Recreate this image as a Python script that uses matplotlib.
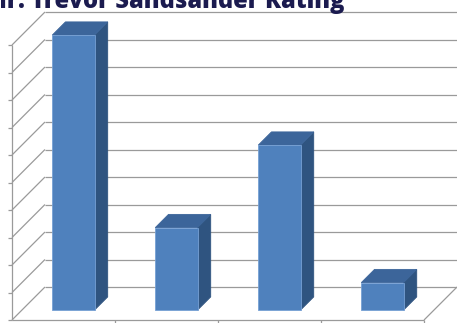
import matplotlib.pyplot as plt

# data
categories = ["A", "B", "C", "D"]
values = [10, 3, 6, 1]
grid_values = list(range(0, 11))
title = "Mr. Trevor Sandsander Rating"

# oblique "3d" look: full depth shifts right and up
DX = 0.32
DY = 1.2


def proj(x, y, d):
    return x + d * DX, y + d * DY


def face(ax, pts, color, edge=None):
    xy = [proj(*p) for p in pts]
    ax.fill([p[0] for p in xy], [p[1] for p in xy], color=color,
            ec=edge if edge else color, lw=0.6, zorder=3)


def seg(ax, a, b, **kw):
    p, q = proj(*a), proj(*b)
    ax.plot([p[0], q[0]], [p[1], q[1]], color="#9a9a9a", lw=0.9,
            solid_capstyle="butt", zorder=1, **kw)


fig = plt.figure(figsize=(4.57, 3.23), dpi=100)
ax = fig.add_axes([0, 0, 1, 1])
n = len(categories)
ax.set_xlim(-12 / 103, n + DX)
ax.set_ylim(-3 / 27.5, 320 / 27.5)
ax.axis("off")

# back wall and left wall gridlines
for v in grid_values:
    seg(ax, (0, v, 1), (n, v, 1))
    seg(ax, (0, v, 0), (0, v, 1))
    # left axis tick
    seg(ax, (-0.04, v, 0), (0, v, 0))

# left axis and floor
seg(ax, (0, 0, 0), (0, grid_values[-1], 0))
seg(ax, (0, 0, 0), (n, 0, 0))
seg(ax, (n, 0, 0), (n, 0, 1))
for i in range(1, n + 1):
    seg(ax, (i, 0, 0), (i, -0.12, 0))

# bars
d0, d1 = 0.3, 0.7
for i, v in enumerate(values):
    x0, x1 = i + 0.295, i + 0.705
    face(ax, [(x1, 0, d0), (x1, 0, d1), (x1, v, d1), (x1, v, d0)], "#2f5480")
    face(ax, [(x0, v, d0), (x1, v, d0), (x1, v, d1), (x0, v, d1)], "#3c659a")
    face(ax, [(x0, 0, d0), (x1, 0, d0), (x1, v, d0), (x0, v, d0)], "#4f81bd",
         edge="#76a0d4")

# title sits above the crop, only its lower part shows (as in the reference)
fig.text(345 / 457, 1 - 8 / 323, title, ha="right", va="baseline",
         fontsize=17, fontweight="heavy", color="#1b1b4f",
         family="Open Sans")

fig.savefig("out.png", dpi=100)
